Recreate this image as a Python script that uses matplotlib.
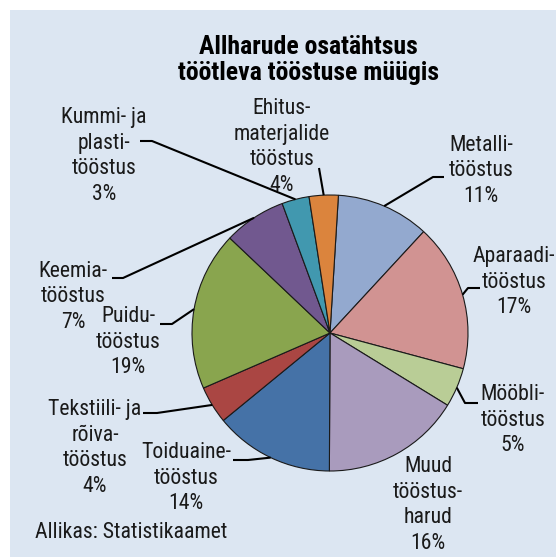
import matplotlib.pyplot as plt
from matplotlib.patches import Rectangle
import numpy as np

W, H = 556, 557

# shares (clockwise from top)
sectors = ['Metalli', 'Aparaadi', 'Mööbli', 'Muud', 'Toiduaine',
           'Tekstiili', 'Puidu', 'Keemia', 'Kummi', 'Ehitus']
shares = [10.9, 17.3, 4.6, 16.3, 14.0, 4.4, 18.6, 7.3, 3.2, 3.4]
pct_labels = ['11%', '17%', '5%', '16%', '14%', '4%', '19%', '7%', '3%', '4%']
names = ['Metalli-\ntööstus', 'Aparaadi-\ntööstus', 'Mööbli-\ntööstus',
         'Muud\ntööstus-\nharud', 'Toiduaine-\ntööstus',
         'Tekstiili- ja\nrõiva-\ntööstus', 'Puidu-\ntööstus',
         'Keemia-\ntööstus', 'Kummi- ja\nplasti-\ntööstus',
         'Ehitus-\nmaterjalide\ntööstus']
colors = ['#93A9CF', '#D19392', '#B9CD96', '#A99BBD', '#4572A7',
          '#AA4643', '#89A54E', '#71588F', '#4198AF', '#DB843D']

# label placement in pixels (x, y from top), and leader elbow/end points
label_pos = [(481, 171), (514, 282), (513, 420), (428, 505), (186, 478),
             (95, 448), (128, 342), (73, 297), (104, 156), (282, 147)]
leaders = [((433, 177), (444, 177)), ((468, 288), (480, 288)),
           ((465, 403), (478, 403)), None, ((248, 460), (233, 460)),
           ((157, 413), (143, 413)), ((172, 324), (160, 324)),
           ((123, 278), (112, 278)), ((152, 141), (140, 141)),
           ((319, 168), (319, 168))]

plt.rcParams['font.family'] = ['Roboto Condensed', 'Roboto', 'DejaVu Sans']

fig = plt.figure(figsize=(W / 100, H / 100), dpi=100)
ax = fig.add_axes([0, 0, 1, 1])

ax.add_patch(Rectangle((10, 0), W - 10, H - 10, facecolor='#dce6f2',
                       edgecolor='none', zorder=0))

cx, cy, r = 330, H - 333, 138
wedges, _ = ax.pie(shares, colors=colors, startangle=86.5, counterclock=False,
                   center=(cx, cy), radius=r, frame=True,
                   wedgeprops=dict(edgecolor='#1a1a1a', linewidth=0.8))
ax.set_xlim(0, W)
ax.set_ylim(0, H)
ax.set_aspect('equal')
ax.axis('off')

for w, name, pct, (lx, ly), ld in zip(wedges, names, pct_labels, label_pos, leaders):
    ax.text(lx, H - ly, name + '\n' + pct, ha='center', va='center',
            fontsize=15.7, linespacing=1.28, color='#1a1a1a')
    if ld is None:
        continue
    mid = np.deg2rad((w.theta1 + w.theta2) / 2)
    sx, sy = cx + r * np.cos(mid), cy + r * np.sin(mid)
    (ex, ey), (tx, ty) = ld
    ax.plot([sx, ex, tx], [sy, H - ey, H - ty], color='black', lw=1.5,
            solid_capstyle='butt', zorder=5)

ax.text(308, H - 60, 'Allharude osatähtsus\ntöötleva tööstuse müügis',
        ha='center', va='center', fontsize=18.5, fontweight='bold',
        linespacing=1.15, color='black')
ax.text(35, H - 532, 'Allikas: Statistikaamet', ha='left', va='center',
        fontsize=15.7, color='#1a1a1a')

fig.savefig('out.png', dpi=100, facecolor='white')
